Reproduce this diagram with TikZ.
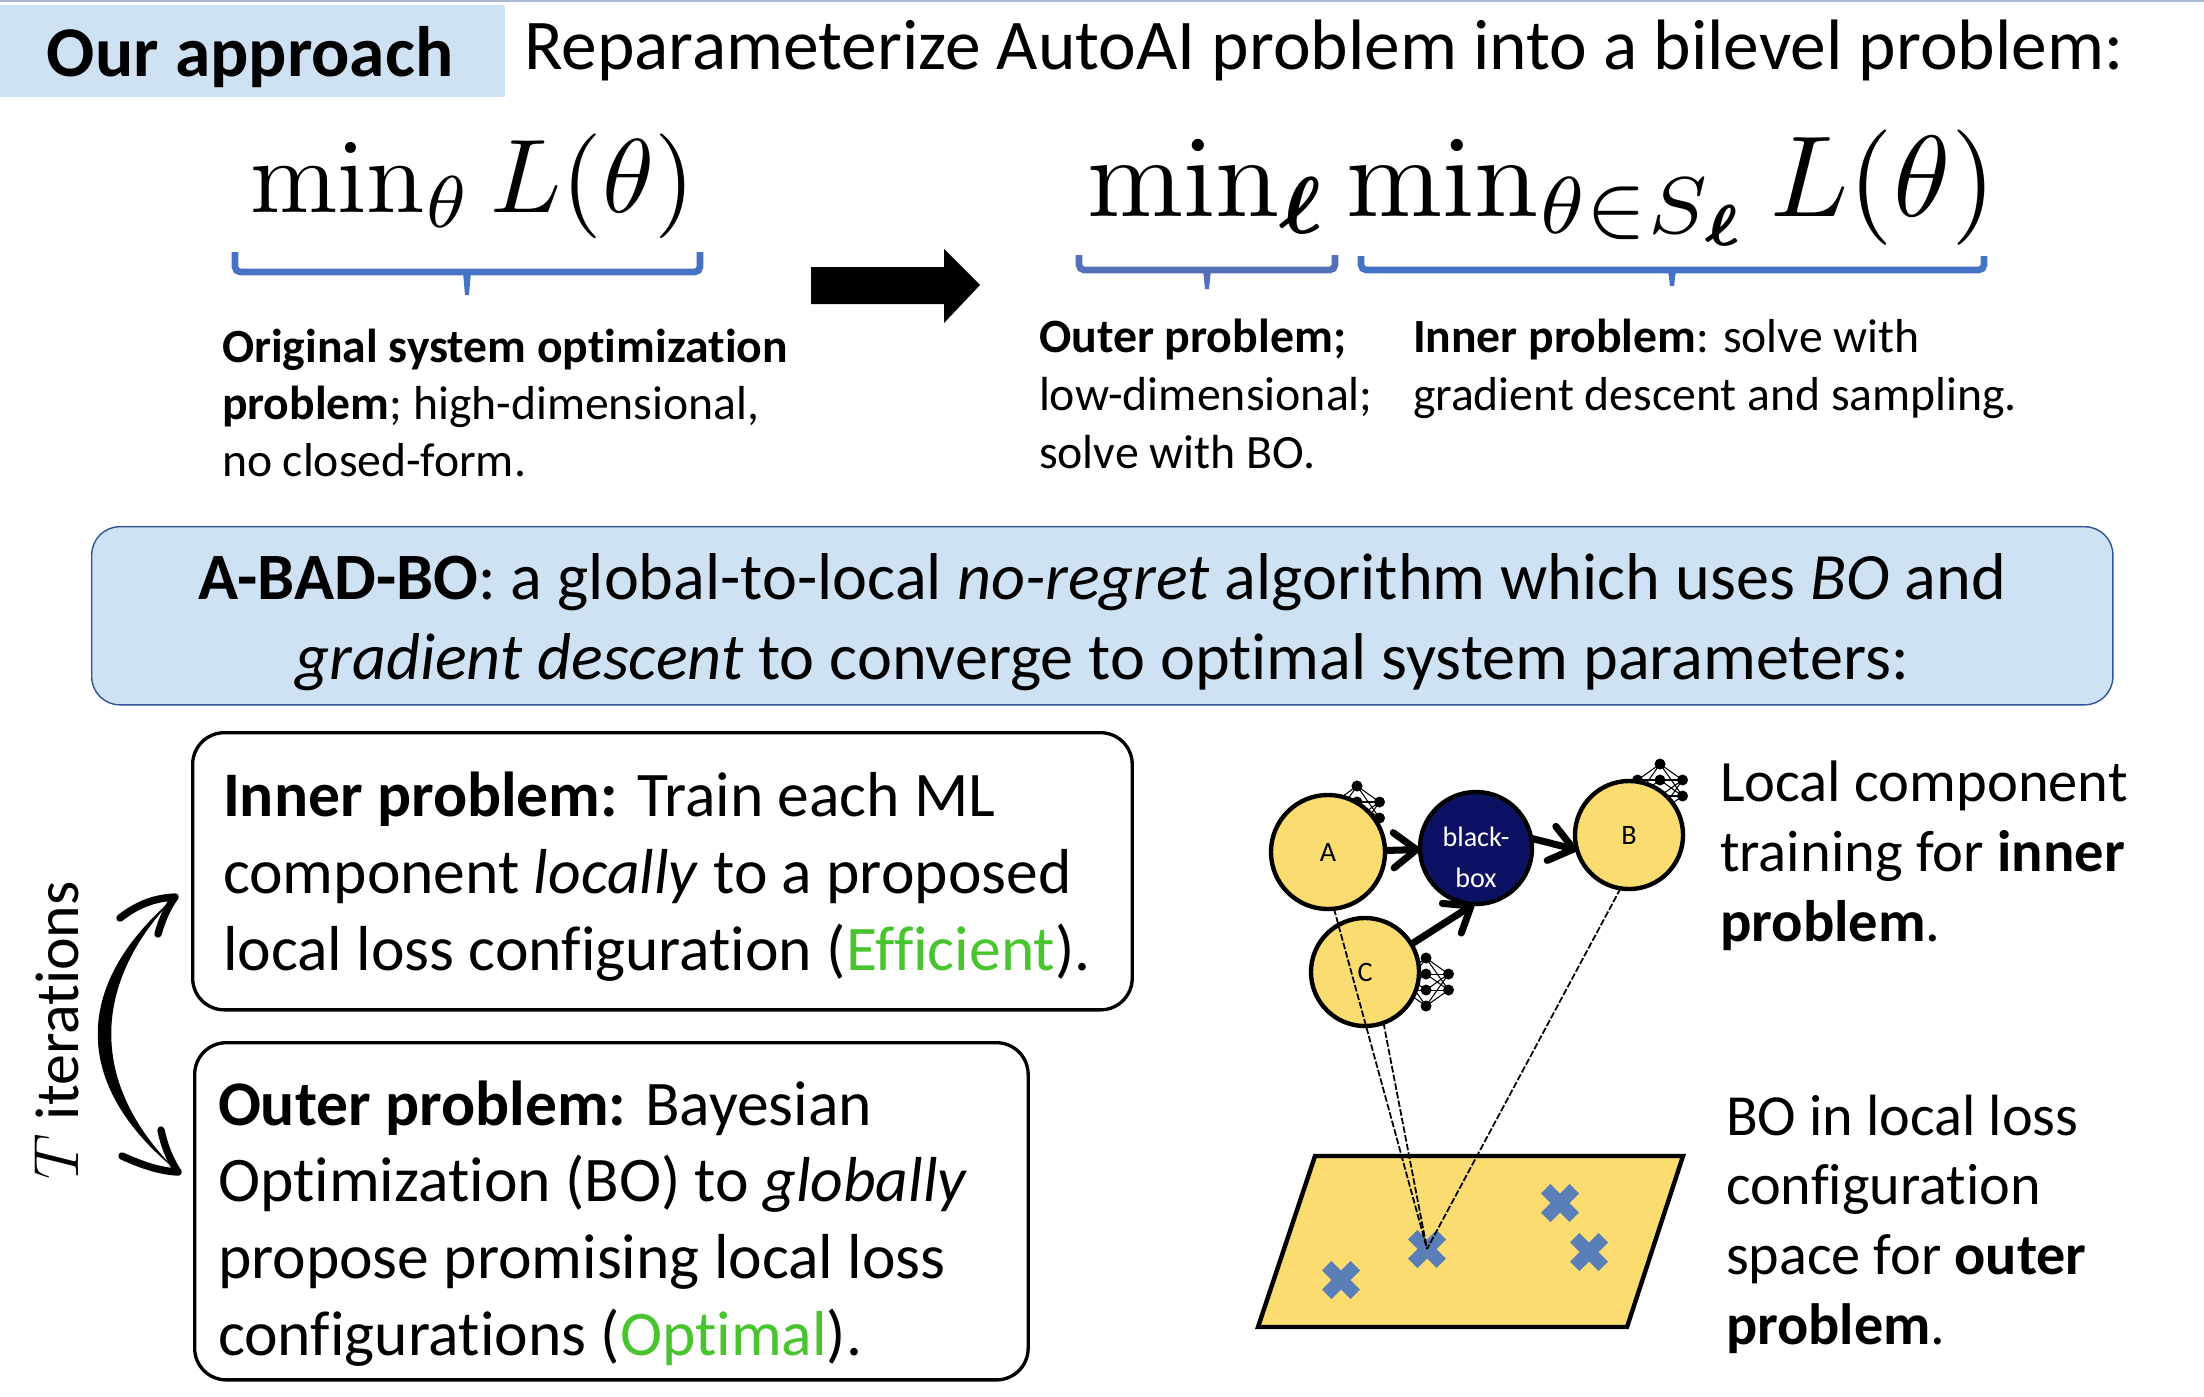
\documentclass[tikz,border=0pt]{standalone}
\usepackage{amsmath}
\usepackage[no-math]{fontspec}
\setmainfont[Ligatures=NoCommon]{Carlito}
\usetikzlibrary{arrows.meta}
\definecolor{panelblue}{HTML}{CFE2F3}
\definecolor{panelline}{HTML}{2F5597}
\definecolor{bracea}{HTML}{4472C4}
\definecolor{braceb}{HTML}{5470BA}
\definecolor{compyellow}{HTML}{FADC70}
\definecolor{navybox}{HTML}{0D1163}
\definecolor{crossblue}{HTML}{5A7FB8}
\definecolor{okgreen}{HTML}{47C42E}
\definecolor{topline}{HTML}{A9B9D3}
\newcommand{\fs}[2]{\fontsize{#1pt}{#2pt}\selectfont}
\newcommand{\nnicon}[2]{%
  \begin{scope}[shift={(#1,#2)}]
    \foreach \ya in {-8,8}{\foreach \yb in {-24,-8,8,24}{\draw[line width=0.3pt] (-22.5,\ya) -- (0,\yb);}}
    \foreach \yb in {-24,-8,8,24}{\foreach \yc in {-8,8}{\draw[line width=0.3pt] (0,\yb) -- (22.5,\yc);}}
    \foreach \ya in {-8,8}{\fill (-22.5,\ya) circle[radius=5.5];\fill (22.5,\ya) circle[radius=5.5];}
    \foreach \yb in {-24,-8,8,24}{\fill (0,\yb) circle[radius=5.5];}
  \end{scope}}
\newcommand{\crossmark}[3]{%
  \coordinate (#1) at (#2,#3);
  \draw[crossblue,line width=3.8pt] ([xshift=-4.07pt,yshift=4.07pt]#1) -- ([xshift=4.07pt,yshift=-4.07pt]#1);
  \draw[crossblue,line width=3.8pt] ([xshift=-4.07pt,yshift=-4.07pt]#1) -- ([xshift=4.07pt,yshift=4.07pt]#1);}
\tikzset{
  x=0.01cm,y=-0.01cm,
  lbl/.style={anchor=base west,inner sep=0,outer sep=0,align=left},
  mathlbl/.style={anchor=base west,inner sep=0,outer sep=0},
  textbox/.style={draw=black,line width=0.95pt,rounded corners=9pt,fill=white},
  brace/.style={line width=1.9pt,rounded corners=1.5pt,line cap=butt},
  comp/.style={circle,draw=black,line width=1.25pt,fill=compyellow,inner sep=0,outer sep=0,minimum size=#1},
  flow/.style={line width=2pt,-{Straight Barb[length=6.5pt,width=10pt,round,line width=2pt]}},
  probe/.style={line width=0.5pt,dash pattern=on 1.9pt off 0.6pt},
}
\begin{document}
\begin{tikzpicture}
\useasboundingbox (0,0) rectangle (2204,1396);
\fill[topline] (0,0) rectangle (2204,1.5);
\fill[panelblue] (0,5) rectangle (505,97);
\node[lbl,font=\fs{20.3}{24}\bfseries] (head) at (47,76) {Our approach};
\node[lbl,font=\fs{20.3}{24}] (title) at (524,69.5) {Reparameterize AutoAI problem into a bilevel problem:};
% formulas
\node[mathlbl,scale=2.98] (origmath) at (250.5,212) {$\min_\theta L(\theta)$};
\node[mathlbl,scale=3.28] (bilevel) at (1087,216) {$\min_{\boldsymbol{\ell}} \min_{\theta\in S_{\boldsymbol{\ell}}} L(\theta)$};
% braces
\draw[bracea,brace] (235,252) -- (235,272) -- (700,272) -- (700,252);
\fill[bracea] (463,272) -- (471,272) -- (469,295) -- (465,295) -- cycle;
\draw[braceb,brace] (1079,255) -- (1079,270) -- (1335,270) -- (1335,255);
\fill[braceb] (1203,270) -- (1211,270) -- (1209,289) -- (1205,289) -- cycle;
\draw[bracea,brace] (1361,256) -- (1361,270) -- (1984,270) -- (1984,256);
\fill[bracea] (1668,270) -- (1676,270) -- (1674,286) -- (1670,286) -- cycle;
% block arrow
\fill (811,267) -- (944,267) -- (944,249) -- (980,285) -- (944,323) -- (944,304) -- (811,304) -- cycle;
% captions
\node[lbl,font=\fs{13.55}{16.1}] (orig) at (222,476) {\textbf{Original system optimization}\\\textbf{problem}; high-dimensional,\\no closed-form.};
\node[lbl,font=\fs{13.6}{16.4}] (outerc) at (1039,468) {\textbf{Outer problem;}\\low-dimensional;\\solve with BO.};
\node[lbl,font=\fs{13.55}{16.4}] (innerc) at (1413,410) {\textbf{Inner problem}: solve with\\gradient descent and sampling.};
% banner
\node[draw=panelline,line width=0.4pt,fill=panelblue,rounded corners=8pt,minimum width=20.20cm,minimum height=1.78cm,inner sep=0,anchor=north west] (banner) at (91,526) {};
\node[anchor=base,inner sep=0,align=center,font=\fs{18.83}{22.5}] (bannertext) at (1102,679) {\textbf{A-BAD-BO}: a global-to-local \textit{no-regret} algorithm which uses \textit{BO} and\\\textit{gradient descent} to converge to optimal system parameters:};
% text boxes
\node[textbox,minimum width=9.39cm,minimum height=2.77cm,anchor=north west,inner sep=0] (innerbox) at (191,731) {};
\node[lbl,font=\fs{18.07}{21.8}] (innertext) at (223,970) {\textbf{Inner problem:} Train each ML\\component \textit{locally} to a proposed\\local loss configuration (\textcolor{okgreen}{Efficient}).};
\node[textbox,minimum width=8.33cm,minimum height=3.37cm,anchor=north west,inner sep=0] (outerbox) at (193,1041) {};
\node[lbl,font=\fs{18.07}{21.8}] (outertext) at (218,1355) {\textbf{Outer problem:} Bayesian\\Optimization (BO) to \textit{globally}\\propose promising local loss\\configurations (\textcolor{okgreen}{Optimal}).};
% iteration label and loop arrow
\node[anchor=base west,rotate=90,inner sep=0,font=\fs{17.6}{22}] (iters) at (78,1180) {\scalebox{1.05}{$T$} iterations};
\fill (174,898) .. controls (72,985) and (72,1085) .. (176,1170) .. controls (90,1085) and (90,985) .. cycle;
\draw[line width=2.1pt,line cap=round,line join=round] (120,918) .. controls (138,904) and (155,898) .. (175,897) .. controls (167,908) and (162,920) .. (158,934);
\draw[line width=2.1pt,line cap=round,line join=round] (122,1156) .. controls (140,1164) and (158,1171) .. (178,1172) .. controls (170,1160) and (164,1145) .. (161,1130);
% network icons behind the components
\nnicon{1357}{810}
\nnicon{1660}{788}
\nnicon{1426}{982}
% components
\node[comp=1.14cm,font=\fs{8}{9}] (A) at (1328,852) {A};
\node[comp=1.08cm,font=\fs{8}{9}] (B) at (1629,835) {B};
\node[comp=1.08cm,font=\fs{8}{9}] (C) at (1365,972) {C};
\node[comp=1.12cm,fill=navybox] (box) at (1476,848) {};
\node[anchor=base,inner sep=0,text=white,align=center,font=\fs{8}{11.4}] (boxlabel) at (1476,887) {black-\\box};
\draw[flow] (A) -- (box);
\draw[flow] (box.10) -- (B.196);
\draw[flow] (C.31) -- (box.268);
% configuration space
\draw[line width=1.25pt,fill=compyellow,line join=miter] (1315,1156) -- (1683,1156) -- (1627,1327) -- (1258,1327) -- cycle;
\crossmark{xa}{1341}{1280}
\crossmark{xb}{1427}{1249}
\crossmark{xc}{1560}{1203}
\crossmark{xd}{1589}{1252}
\draw[probe] (A.-84) -- (xb);
\draw[probe] (C.-70) -- (xb);
\draw[probe] (B.-99) -- (xb);
% right texts
\node[lbl,font=\fs{16.65}{19.8}] (localt) at (1720,941) {Local component\\training for \textbf{inner}\\\textbf{problem}.};
\node[lbl,font=\fs{16.55}{19.8}] (bot) at (1726,1344) {BO in local loss\\configuration\\space for \textbf{outer}\\\textbf{problem}.};
\end{tikzpicture}
\end{document}
